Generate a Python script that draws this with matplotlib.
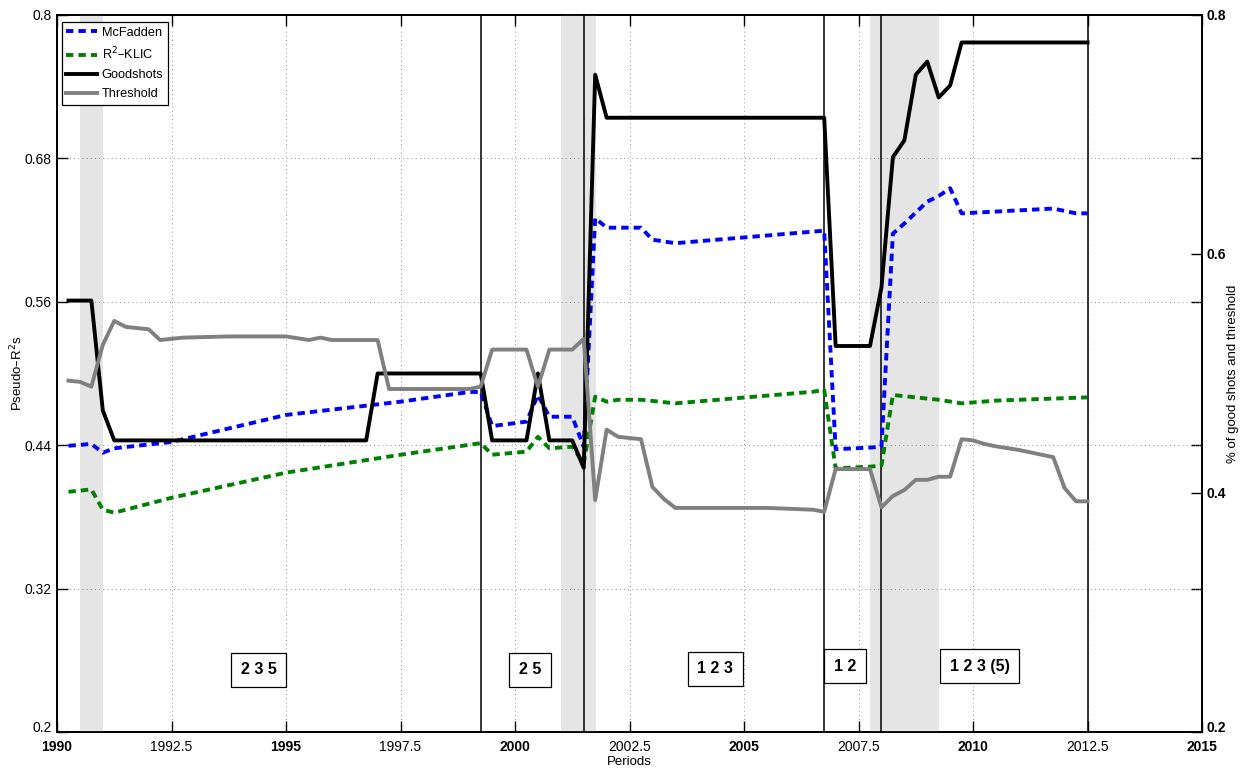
import matplotlib.pyplot as plt
from matplotlib.lines import Line2D
from matplotlib.transforms import ScaledTranslation

plt.rcParams.update({
    "font.family": ["Liberation Sans Narrow", "Liberation Sans", "DejaVu Sans"],
    "font.size": 10,
    "axes.linewidth": 1.3,
})

# pseudo-R2 measures (left axis)
mcf_t = [1990.25, 1990.75, 1991.0, 1991.25, 1992.5, 1995.0, 1997.5, 1999.0, 1999.25,
         1999.5, 2000.25, 2000.5, 2000.75, 2001.25, 2001.5, 2001.75, 2002.0, 2002.75,
         2003.0, 2003.5, 2006.5, 2006.75, 2007.0, 2007.75, 2008.0, 2008.25, 2008.5,
         2009.0, 2009.25, 2009.5, 2009.75, 2010.5, 2011.75, 2012.25, 2012.5]
mcf_v = [0.4395, 0.441, 0.4337, 0.4374, 0.4427, 0.4653, 0.4764, 0.4845, 0.4846,
         0.456, 0.4597, 0.482, 0.4638, 0.4638, 0.4387, 0.630, 0.622, 0.622,
         0.612, 0.609, 0.6187, 0.6195, 0.4366, 0.438, 0.4387, 0.617, 0.6255,
         0.6438, 0.6485, 0.655, 0.634, 0.6355, 0.638, 0.634, 0.634]

klic_t = [1990.25, 1990.75, 1991.0, 1991.25, 1992.5, 1995.0, 1997.5, 1999.25, 1999.5,
          2000.25, 2000.5, 2000.75, 2001.25, 2001.5, 2001.75, 2002.0, 2002.25, 2002.75,
          2003.5, 2006.5, 2006.75, 2007.0, 2007.75, 2008.0, 2008.25, 2009.25, 2009.75,
          2010.5, 2012.5]
klic_v = [0.401, 0.403, 0.386, 0.3835, 0.396, 0.417, 0.432, 0.4417, 0.432,
          0.4346, 0.447, 0.4374, 0.4387, 0.4248, 0.4806, 0.4764, 0.478, 0.478,
          0.475, 0.4847, 0.4862, 0.4206, 0.422, 0.423, 0.482, 0.478, 0.475,
          0.4773, 0.480]

# good shots and threshold (right axis, same 0.2-0.8 range)
good_t = [1990.25, 1990.75, 1991.0, 1991.25, 1996.75, 1997.0, 1999.25, 1999.5, 2000.25,
          2000.5, 2000.75, 2001.25, 2001.5, 2001.75, 2002.0, 2006.75, 2007.0, 2007.75,
          2008.0, 2008.25, 2008.5, 2008.75, 2009.0, 2009.25, 2009.5, 2009.75, 2012.5]
good_v = [0.561, 0.561, 0.469, 0.444, 0.444, 0.500, 0.500, 0.444, 0.444,
          0.500, 0.444, 0.444, 0.421, 0.750, 0.714, 0.714, 0.523, 0.523,
          0.572, 0.681, 0.695, 0.750, 0.761, 0.731, 0.741, 0.777, 0.777]

thr_t = [1990.25, 1990.5, 1990.75, 1991.0, 1991.25, 1991.5, 1992.0, 1992.25, 1992.75,
         1993.75, 1995.0, 1995.5, 1995.75, 1996.0, 1997.0, 1997.25, 1999.0, 1999.25,
         1999.5, 2000.25, 2000.5, 2000.75, 2001.25, 2001.5, 2001.75, 2002.0, 2002.25,
         2002.75, 2003.0, 2003.25, 2003.5, 2005.5, 2006.5, 2006.75, 2007.0, 2007.75,
         2008.0, 2008.25, 2008.5, 2008.75, 2009.0, 2009.25, 2009.5, 2009.75, 2010.0,
         2010.25, 2010.5, 2011.0, 2011.5, 2011.75, 2012.0, 2012.25, 2012.5]
thr_v = [0.494, 0.493, 0.489, 0.524, 0.544, 0.539, 0.537, 0.528, 0.530,
         0.531, 0.531, 0.528, 0.530, 0.528, 0.528, 0.487, 0.487, 0.489,
         0.520, 0.520, 0.489, 0.520, 0.520, 0.529, 0.394, 0.453, 0.447,
         0.445, 0.405, 0.395, 0.3875, 0.3875, 0.386, 0.3843, 0.420, 0.420,
         0.388, 0.3975, 0.4025, 0.411, 0.411, 0.4136, 0.4136, 0.445, 0.444,
         0.441, 0.439, 0.436, 0.432, 0.430, 0.404, 0.393, 0.393]

# recession shading and structural break dates
shade_spans = [(1990.5, 1991.0), (2001.0, 2001.77), (2007.75, 2009.25)]
break_dates = [1999.25, 2001.5, 2006.75, 2008.0, 2012.5]

# regime labels (variables retained in each sub-period)
regime_text = ["2 3 5", "2 5", "1 2 3", "1 2", "1 2 3 (5)"]
regime_x = [1994.4, 2000.33, 2004.37, 2007.2, 2010.15]
regime_y = [0.252, 0.252, 0.253, 0.255, 0.255]

xticks = [1990, 1992.5, 1995, 1997.5, 2000, 2002.5, 2005, 2007.5, 2010, 2012.5, 2015]
xlabels = ["1990", "1992.5", "1995", "1997.5", "2000", "2002.5",
           "2005", "2007.5", "2010", "2012.5", "2015"]
yticks_left = [0.2, 0.32, 0.44, 0.56, 0.68, 0.8]
yticks_right = [0.2, 0.4, 0.6, 0.8]

fig = plt.figure(figsize=(12.45, 7.68), dpi=100)
ax = fig.add_axes([0.0458, 0.0469, 0.9197, 0.9336])
ax2 = ax.twinx()

for a in (ax, ax2):
    a.set_xlim(1990, 2015)
    a.set_ylim(0.2, 0.8)

for x0, x1 in shade_spans:
    ax.axvspan(x0, x1, color="#e5e5e5", lw=0, zorder=0)

grid_kw = dict(color="#707070", lw=0.6, linestyle=(0, (1, 4)), zorder=0.5)
for xt in xticks[1:-1]:
    ax.axvline(xt, **grid_kw)
for yt in yticks_left[1:-1]:
    ax.axhline(yt, **grid_kw)

for xb in break_dates:
    ax.axvline(xb, color="black", lw=1.1, zorder=1)

# both scales span 0.2-0.8, so every series is drawn on the front axes
dash = (0, (1.9, 1.3))
ax.plot(mcf_t, mcf_v, color="#0000ff", lw=2.8, linestyle=dash, zorder=3)
ax.plot(klic_t, klic_v, color="#008000", lw=2.8, linestyle=dash, zorder=3)
ax.plot(good_t, good_v, color="black", lw=2.8, zorder=3)
ax.plot(thr_t, thr_v, color="#808080", lw=2.8, zorder=3)

for txt, x, y in zip(regime_text, regime_x, regime_y):
    ax.text(x, y, txt, ha="center", va="center", fontsize=11.5, fontweight="bold",
            bbox=dict(boxstyle="square,pad=0.6", fc="white", ec="black", lw=0.9),
            zorder=4)

ax.set_xticks(xticks)
ax.set_xticklabels(xlabels)
for lab, xt in zip(ax.get_xticklabels(), xticks):
    if xt % 5 == 0:
        lab.set_fontweight("bold")
ax.set_yticks(yticks_left)
ax.set_yticklabels(["0.2", "0.32", "0.44", "0.56", "0.68", "0.8"])
ax.tick_params(axis="both", direction="in", length=8, width=1.0, top=True,
               labelsize=10, pad=4)
ax.tick_params(axis="x", pad=6)
ax.tick_params(axis="y", right=False)
ax2.set_yticks(yticks_right)
ax2.set_yticklabels(["0.2", "0.4", "0.6", "0.8"], fontweight="bold")
ax2.tick_params(axis="y", direction="in", length=8, width=1.0, labelsize=10, pad=3)
# mirror the left-axis ticks on the right edge
ax2.set_yticks(yticks_left[1:-1], minor=True)
ax2.tick_params(axis="y", which="minor", direction="in", length=8, width=1.0)

# lift the bottom "0.2" labels a little so they sit above the year labels
lift = ScaledTranslation(0, 4 / 72, fig.dpi_scale_trans)
for lab in (ax.get_yticklabels()[0], ax2.get_yticklabels()[0]):
    lab.set_transform(lab.get_transform() + lift)

ax.set_xlabel("Periods", fontsize=9.5, labelpad=1)
ax.set_ylabel("Pseudo\u2013R$^2$s", fontsize=9.5, labelpad=-1)
ax2.set_ylabel("% of good shots and threshold", fontsize=9.5, labelpad=1)

ax.set_zorder(ax2.get_zorder() + 1)
ax.patch.set_visible(False)

handles = [
    Line2D([], [], color="#0000ff", lw=2.8, linestyle=dash),
    Line2D([], [], color="#008000", lw=2.8, linestyle=dash),
    Line2D([], [], color="black", lw=2.8),
    Line2D([], [], color="#808080", lw=2.8),
]
leg = ax.legend(handles, ["McFadden", "R$^2$\u2013KLIC", "Goodshots", "Threshold"],
                loc="upper left", bbox_to_anchor=(0.004, 0.99), fontsize=9.2,
                handlelength=2.4, handletextpad=0.4, labelspacing=0.55,
                borderpad=0.35, borderaxespad=0, fancybox=False, framealpha=1)
leg.get_frame().set_edgecolor("black")
leg.get_frame().set_linewidth(0.9)
leg.set_zorder(6)

fig.savefig("out.png", dpi=100)
